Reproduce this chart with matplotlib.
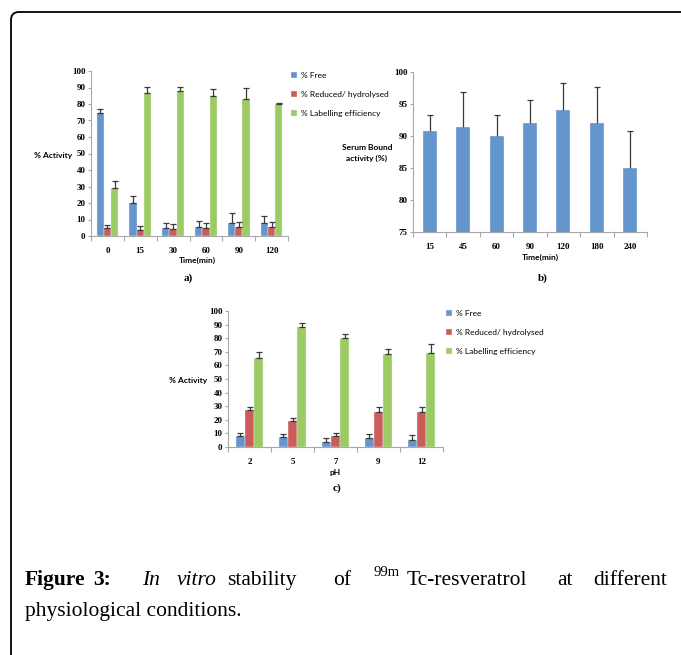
import matplotlib
matplotlib.use('Agg')
import matplotlib.pyplot as plt
from matplotlib.patches import FancyBboxPatch
from matplotlib.transforms import IdentityTransform
import numpy as np

W, H = 681, 655

# a) stability over time
time_a = ['0', '15', '30', '60', '90', '120']
free_a = [74.5, 20.0, 4.7, 5.3, 7.6, 7.8]
free_a_err = [2.5, 4.3, 3.1, 3.7, 6.5, 4.5]
red_a = [4.7, 3.7, 4.5, 4.7, 5.3, 5.3]
red_a_err = [2.2, 2.6, 2.6, 3.3, 3.1, 3.1]
lab_a = [28.8, 86.7, 87.7, 84.7, 83.0, 79.8]
lab_a_err = [4.7, 3.7, 2.7, 4.5, 7.0, 1.0]

# b) serum bound activity
time_b = ['15', '45', '60', '90', '120', '180', '240']
serum_b = [90.8, 91.4, 90.0, 92.0, 94.0, 92.0, 85.0]
serum_b_err = [2.5, 5.5, 3.3, 3.6, 4.3, 5.6, 5.8]

# c) effect of pH
ph_c = ['2', '5', '7', '9', '12']
free_c = [8.1, 7.1, 3.9, 6.4, 5.2]
free_c_err = [2.5, 2.7, 3.0, 3.4, 3.4]
red_c = [27.0, 19.2, 7.9, 26.0, 26.0]
red_c_err = [2.5, 2.4, 2.7, 3.5, 3.5]
lab_c = [65.1, 88.0, 79.9, 68.1, 69.3]
lab_c_err = [4.4, 3.4, 2.9, 4.1, 6.6]

series_names = ['% Free', '% Reduced/ hydrolysed', '% Labelling efficiency']
colors = ['#6495CD', '#CC5C5A', '#9BCB62']
err_color = '#3a3a3a'
axis_color = '#a8a8a8'

tick_font = dict(family='Liberation Serif', weight='bold', size=6.5)
lab_font = dict(family='Lato', weight='bold', size=6)


def px_axes(fig, x0, x1, ytop, ybot):
    return fig.add_axes([x0 / W, 1 - ybot / H, (x1 - x0) / W, (ybot - ytop) / H])


def ftext(fig, x, y, s, **kw):
    return fig.text(x / W, 1 - y / H, s, **kw)


def style_axes(ax, ncat, labels):
    for s in ['top', 'right']:
        ax.spines[s].set_visible(False)
    for s in ['left', 'bottom']:
        ax.spines[s].set_color(axis_color)
        ax.spines[s].set_linewidth(0.8)
    ax.set_xlim(0, ncat)
    ax.set_xticks(np.arange(ncat) + 0.5)
    ax.set_xticklabels(labels, fontdict=tick_font)
    ax.set_xticks(np.arange(ncat + 1), minor=True)
    ax.tick_params(axis='x', which='major', length=0, pad=8)
    ax.tick_params(axis='x', which='minor', length=3.5, color=axis_color, width=0.8)
    ax.tick_params(axis='y', length=2.5, color=axis_color, width=0.8, pad=1.5)
    for t in ax.get_yticklabels():
        t.set_fontproperties(matplotlib.font_manager.FontProperties(**tick_font))


def grouped(ax, groups, errs, width):
    x = np.arange(len(groups[0])) + 0.5
    for i, (vals, err) in enumerate(zip(groups, errs)):
        xi = x + (i - 1) * width
        ax.bar(xi, vals, width, color=colors[i], edgecolor='#e8eef6', linewidth=0.3,
               label=series_names[i], zorder=2)
        ax.errorbar(xi, vals, yerr=[np.zeros(len(vals)), err], fmt='none',
                    ecolor=err_color, elinewidth=0.9, capsize=2.2, capthick=0.9, zorder=3)


def side_legend(ax, x, y):
    ax.legend(loc='upper left', bbox_to_anchor=(x / W, 1 - y / H), bbox_transform=fig.transFigure,
              frameon=False, prop=dict(family='Lato', size=6), handlelength=0.7, handleheight=0.7,
              handletextpad=0.5, labelspacing=1.45, borderpad=0, borderaxespad=0)


fig = plt.figure(figsize=(W / 100, H / 100), dpi=100)

# panel a
ax_a = px_axes(fig, 91, 288, 71, 236)
grouped(ax_a, [free_a, red_a, lab_a], [free_a_err, red_a_err, lab_a_err], 0.22)
ax_a.set_ylim(0, 100)
ax_a.set_yticks(range(0, 101, 10))
style_axes(ax_a, len(time_a), time_a)
side_legend(ax_a, 291, 72)
ftext(fig, 53, 155, '% Activity', ha='center', va='center', **lab_font)
ftext(fig, 197, 260, 'Time(min)', ha='center', va='center', **lab_font)
ftext(fig, 188, 278, 'a)', ha='center', va='center', family='Liberation Serif', weight='bold', size=8)

# panel b
ax_b = px_axes(fig, 413, 647, 72, 232)
xb = np.arange(len(time_b)) + 0.5
ax_b.bar(xb, serum_b, 0.42, color=colors[0], edgecolor='#e8eef6', linewidth=0.3, zorder=2)
tops_b = np.array(serum_b) + np.array(serum_b_err)
ax_b.vlines(xb, serum_b, tops_b, color=err_color, linewidth=0.9, zorder=3)
ax_b.plot(xb, tops_b, linestyle='none', marker='_', markersize=4.4, markeredgewidth=0.9,
          color=err_color, zorder=3)
ax_b.set_ylim(75, 100)
ax_b.set_yticks(range(75, 101, 5))
style_axes(ax_b, len(time_b), time_b)
ftext(fig, 367, 153, 'Serum Bound\nactivity (%)', ha='center', va='center', linespacing=1.6, **lab_font)
ftext(fig, 540, 257, 'Time(min)', ha='center', va='center', **lab_font)
ftext(fig, 543, 278, 'b)', ha='center', va='center', family='Liberation Serif', weight='bold', size=8)

# panel c
ax_c = px_axes(fig, 228, 443, 311, 447)
grouped(ax_c, [free_c, red_c, lab_c], [free_c_err, red_c_err, lab_c_err], 0.217)
ax_c.set_ylim(0, 100)
ax_c.set_yticks(range(0, 101, 10))
style_axes(ax_c, len(ph_c), ph_c)
side_legend(ax_c, 446, 310)
ftext(fig, 188, 380, '% Activity', ha='center', va='center', **lab_font)
ftext(fig, 335, 472, 'pH', ha='center', va='center', **lab_font)
ftext(fig, 337, 488, 'c)', ha='center', va='center', family='Liberation Serif', weight='bold', size=8)

# frame round the figure (only top and left edges fall inside the image)
frame = FancyBboxPatch((11, -30), 720, H - 12 + 30, boxstyle='round,pad=0,rounding_size=8',
                       transform=IdentityTransform(), facecolor='none', edgecolor='black',
                       linewidth=1.3)
fig.add_artist(frame)

# caption, justified by hand
cap = dict(family='Liberation Serif', size=15.5, va='baseline', ha='left')
words = [(25, 'Figure', dict(weight='bold')), (93, '3:', dict(weight='bold')),
         (142, 'In', dict(style='italic')), (177, 'vitro', dict(style='italic')),
         (227, 'stability', {}), (333, 'of', {}), (407, 'Tc-resveratrol', {}),
         (557, 'at', {}), (593, 'different', {})]
for x, w, extra in words:
    ftext(fig, x, 585, w, **cap, **extra)
ftext(fig, 373, 576, '99m', family='Liberation Serif', size=10.5, va='baseline', ha='left')
ftext(fig, 25, 616, 'physiological conditions.', **cap)

fig.savefig('out.png', dpi=100)
